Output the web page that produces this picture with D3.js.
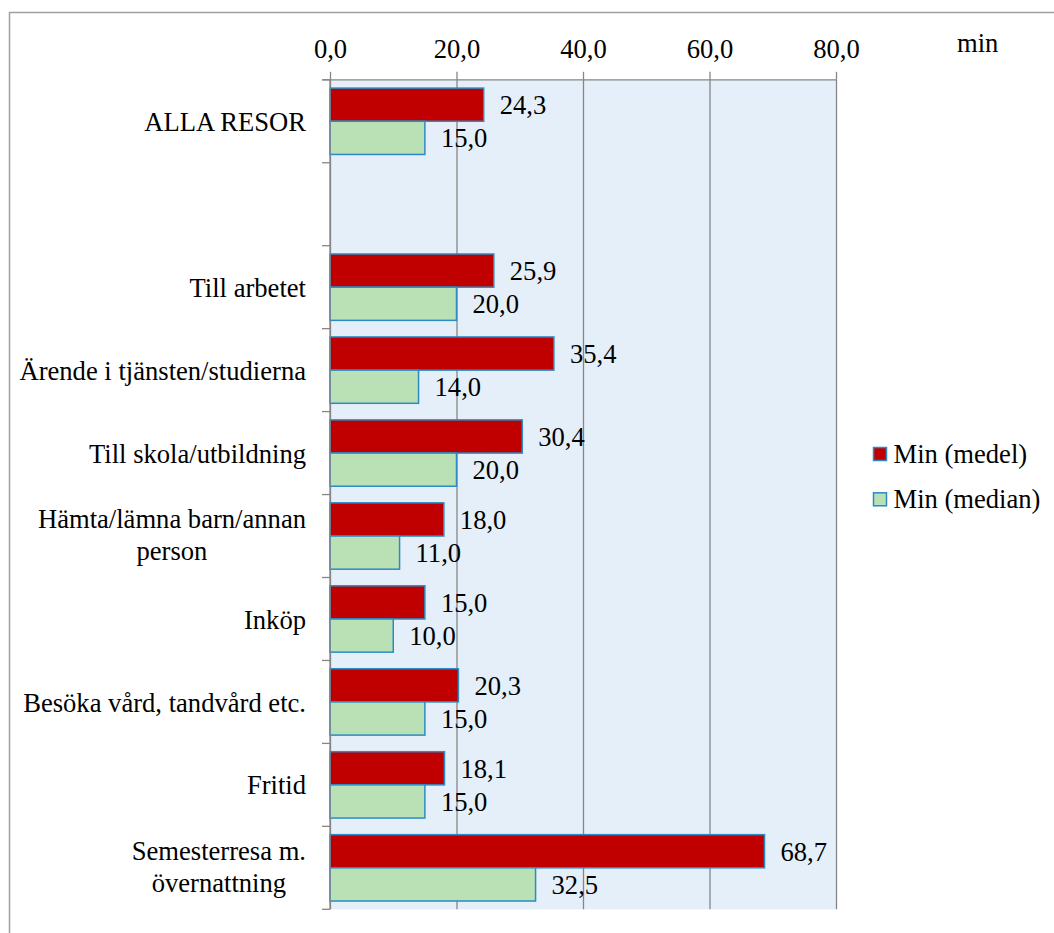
<!DOCTYPE html>
<html>
<head>
<meta charset="utf-8">
<script src="https://cdn.jsdelivr.net/npm/d3@7"></script>
<style>
  body { margin: 0; background: #fff; }
</style>
</head>
<body>
<div id="chart"></div>
<script>
// categories, "" is the empty slot between ALLA RESOR and the rest
const categories = [
  "ALLA RESOR",
  "",
  "Till arbetet",
  "Ärende i tjänsten/studierna",
  "Till skola/utbildning",
  "Hämta/lämna barn/annan\nperson",
  "Inköp",
  "Besöka vård, tandvård etc.",
  "Fritid",
  "Semesterresa m.\növernattning"
]
const medel = [24.3, null, 25.9, 35.4, 30.4, 18.0, 15.0, 20.3, 18.1, 68.7]
const median = [15.0, null, 20.0, 14.0, 20.0, 11.0, 10.0, 15.0, 15.0, 32.5]
const seriesNames = ["Min (medel)", "Min (median)"]
const xTicks = [0, 20, 40, 60, 80]
const unitLabel = "min"

const W = 1054, H = 933
const PLOT = { LEFT: 330, RIGHT: 836, TOP: 79.8, BOTTOM: 909.3 }
const FONT = 26.6
const SERIF = "Liberation Serif"
const colors = ["#C00000", "#B9E1B5"]
const edge = "#2C8BC5"
const grid = "#868686"

const fmt = v => d3.format(".1f")(v).replace(".", ",")

const svg = d3.select("#chart").append("svg")
  .attr("width", W)
  .attr("height", H)

// outer chart border
svg.append("rect")
  .attr("x", 9.5).attr("y", 12.5)
  .attr("width", W + 20).attr("height", H + 20)
  .attr("fill", "#fff")
  .attr("stroke", "#a0a0a0")
  .attr("stroke-width", 1.5)

const x = d3.scaleLinear()
  .domain([0, 80])
  .range([PLOT.LEFT, PLOT.RIGHT])

const y = d3.scaleBand()
  .domain(categories)
  .range([PLOT.TOP, PLOT.BOTTOM])
  .paddingInner(0.2)
  .paddingOuter(0.1)

const ySub = d3.scaleBand()
  .domain([0, 1])
  .range([0, y.bandwidth()])

// plot background
svg.append("rect")
  .attr("x", x(0)).attr("y", PLOT.TOP)
  .attr("width", x(80) - x(0)).attr("height", PLOT.BOTTOM - PLOT.TOP)
  .attr("fill", "#E5EFF9")

// vertical gridlines
svg.append("g")
  .attr("transform", "translate(0," + PLOT.TOP + ")")
  .call(d3.axisBottom(x).tickValues(xTicks).tickSize(PLOT.BOTTOM - PLOT.TOP).tickFormat(""))
  .call(g => g.select(".domain").remove())
  .call(g => g.selectAll("line").attr("stroke", grid).attr("stroke-width", 1.3))

// bars
const rows = categories.map((c, i) => ({ cat: c, vals: [medel[i], median[i]] }))
  .filter(d => d.cat !== "")

const groups = svg.selectAll("g.row")
  .data(rows)
  .enter().append("g")
  .attr("class", "row")
  .attr("transform", d => "translate(0," + y(d.cat) + ")")

groups.selectAll("rect")
  .data(d => d.vals)
  .enter().append("rect")
  .attr("x", x(0))
  .attr("y", (v, j) => ySub(j))
  .attr("width", v => x(v) - x(0))
  .attr("height", ySub.bandwidth())
  .attr("fill", (v, j) => colors[j])
  .attr("stroke", edge)
  .attr("stroke-width", 1.5)

// value labels
groups.selectAll("text.val")
  .data(d => d.vals)
  .enter().append("text")
  .attr("class", "val")
  .attr("x", v => x(v) + 16)
  .attr("y", (v, j) => ySub(j) + ySub.bandwidth() / 2)
  .attr("dy", "0.36em")
  .text(v => fmt(v))

// top value axis
const xAxis = svg.append("g")
  .attr("transform", "translate(0," + PLOT.TOP + ")")
  .call(d3.axisTop(x).tickValues(xTicks).tickSize(8).tickSizeOuter(0).tickPadding(14).tickFormat(fmt))
xAxis.attr("font-family", SERIF).attr("font-size", FONT)
xAxis.select(".domain").remove()
xAxis.selectAll("line").attr("stroke", grid).attr("stroke-width", 1.3)
svg.append("line")
  .attr("x1", x(0) - 8).attr("x2", x(80))
  .attr("y1", PLOT.TOP).attr("y2", PLOT.TOP)
  .attr("stroke", grid).attr("stroke-width", 1.3)

svg.append("text")
  .attr("x", 957).attr("y", 52)
  .text(unitLabel)

// category axis: line with ticks at slot boundaries
const step = y.step()
const bounds = categories.map(c => y(c) - step * y.paddingOuter()).concat([PLOT.BOTTOM])
svg.append("line")
  .attr("x1", x(0)).attr("x2", x(0))
  .attr("y1", PLOT.TOP).attr("y2", PLOT.BOTTOM)
  .attr("stroke", grid).attr("stroke-width", 1.3)
svg.selectAll("line.ytick")
  .data(bounds)
  .enter().append("line")
  .attr("class", "ytick")
  .attr("x1", x(0) - 8).attr("x2", x(0))
  .attr("y1", d => d).attr("y2", d => d)
  .attr("stroke", grid).attr("stroke-width", 1.3)

// legend
const legend = svg.selectAll("g.legend")
  .data(seriesNames)
  .enter().append("g")
  .attr("class", "legend")
  .attr("transform", (d, i) => "translate(873.5," + (447.5 + i * 45.3) + ")")
legend.append("rect")
  .attr("width", 13).attr("height", 13)
  .attr("fill", (d, i) => colors[i])
  .attr("stroke", edge)
  .attr("stroke-width", 1.5)
legend.append("text")
  .attr("x", 20).attr("y", 6.5)
  .attr("dy", "0.33em")
  .text(d => d)

// every text so far gets the serif face
svg.selectAll("text")
  .attr("font-family", SERIF)
  .attr("font-size", FONT)
  .attr("fill", "#000")

// category labels, multi-line ones centered inside a right-aligned block
const labelRight = 306
categories.filter(c => c !== "").forEach(c => {
  const lines = c.split("\n")
  const cy = y(c) + y.bandwidth() / 2
  const lh = FONT * 1.19
  const t = svg.append("text")
    .attr("font-family", SERIF)
    .attr("font-size", FONT)
    .attr("fill", "#000")
  if (lines.length === 1) {
    t.attr("x", labelRight).attr("y", cy).attr("dy", "0.36em")
      .attr("text-anchor", "end").text(c)
    return
  }
  const spans = lines.map((l, k) => t.append("tspan")
    .attr("y", cy + (k - (lines.length - 1) / 2) * lh)
    .attr("dy", "0.3em")
    .text(l))
  const maxW = d3.max(spans, s => s.node().getComputedTextLength())
  spans.forEach(s => s.attr("x", labelRight - maxW / 2))
  t.attr("text-anchor", "middle")
})
</script>
</body>
</html>
